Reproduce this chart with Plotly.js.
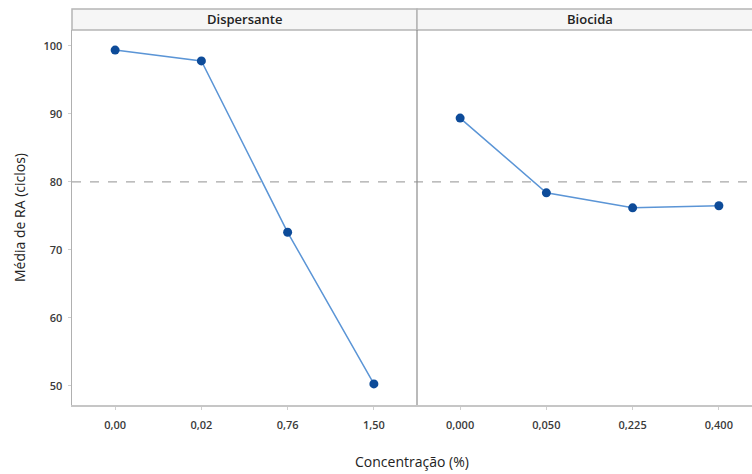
<!DOCTYPE html>
<html>
<head>
<meta charset="utf-8">
<script src="https://cdn.plot.ly/plotly-3.0.1.min.js"></script>
<style>
  html, body { margin: 0; padding: 0; background: #ffffff; }
  #chart { width: 752px; height: 474px; }
</style>
</head>
<body>
<div id="chart"></div>
<script>
// Main effects of concentration on mean RA (cycles)
const dispersanteLevels = ["0,00", "0,02", "0,76", "1,50"];
const dispersanteMeans  = [99.4, 97.8, 72.6, 50.3];

const biocidaLevels = ["0,000", "0,050", "0,225", "0,400"];
const biocidaMeans  = [89.4, 78.4, 76.2, 76.5];

const panelNames = ["Dispersante", "Biocida"];
const overallMean = 80;
const yTicks = [50, 60, 70, 80, 90, 100];

const lineColor = "#5b95d6";
const markerColor = "#0d4b99";
const frameColor = "#b5b5b5";
const fontFamily = "'Open Sans', 'Noto Sans', sans-serif";

const W = 752, H = 474;
const margin = { l: 72, r: 0, t: 9, b: 69 };
const plotW = W - margin.l - margin.r;
const plotH = H - margin.t - margin.b;
const stripH = 21;
const yTop = 1 - stripH / plotH;
const panelW = 345;
const split = panelW / plotW;

function effectTrace(levels, means, xa) {
  return {
    x: levels, y: means, xaxis: xa, yaxis: "y",
    type: "scatter", mode: "lines+markers",
    line: { color: lineColor, width: 1.5 },
    marker: { color: markerColor, size: 9 },
    hoverinfo: "x+y", showlegend: false
  };
}

const data = [
  effectTrace(dispersanteLevels, dispersanteMeans, "x"),
  effectTrace(biocidaLevels, biocidaMeans, "x2")
];

const tickFont = { family: fontFamily, size: 11, color: "#3a3a3a", weight: 600 };

const axisCommon = {
  type: "category",
  showgrid: false, zeroline: false,
  ticks: "outside", ticklen: 3, tickcolor: "#cfcfcf",
  ticklabelstandoff: 6,
  tickfont: tickFont,
  showline: true, linecolor: "#c6c6c6", linewidth: 1.5
};

const shapes = [
  // strip headers
  { type: "rect", xref: "paper", yref: "paper", x0: 0, x1: split, y0: yTop, y1: 1,
    fillcolor: "#f6f6f6", line: { color: frameColor, width: 1.5 }, layer: "below" },
  { type: "rect", xref: "paper", yref: "paper", x0: split, x1: 1.01, y0: yTop, y1: 1,
    fillcolor: "#f6f6f6", line: { color: frameColor, width: 1.5 }, layer: "below" },
  // panel divider
  { type: "line", xref: "paper", yref: "paper", x0: split, x1: split, y0: 0, y1: yTop,
    line: { color: "#8c8c8c", width: 1.2 } },
  // overall mean reference line
  { type: "line", xref: "paper", yref: "y", x0: 0, x1: 1, y0: overallMean, y1: overallMean,
    line: { color: "#a8a8a8", width: 1.2, dash: "dash" }, layer: "below" }
];

const annotations = panelNames.map((name, i) => ({
  text: name, xref: "paper", yref: "paper",
  x: i === 0 ? split / 2 : split + (1 - split) * (panelW / (plotW - panelW)) / 2,
  y: (yTop + 1) / 2, xanchor: "center", yanchor: "middle", showarrow: false,
  font: { family: fontFamily, size: 13, color: "#222", weight: 600 }
}));

// shared x-axis title, centred under both panels
annotations.push({
  text: "Concentração (%)", xref: "paper", yref: "paper",
  x: 0.5, y: 0, yshift: -56, xanchor: "center", yanchor: "middle", showarrow: false,
  font: { family: fontFamily, size: 14, color: "#222" }
});

const layout = {
  width: W, height: H,
  margin: margin,
  paper_bgcolor: "#ffffff", plot_bgcolor: "#ffffff",
  font: { family: fontFamily, color: "#333" },
  xaxis: Object.assign({}, axisCommon, {
    domain: [0, split], range: [-0.5, 3.5], anchor: "y"
  }),
  xaxis2: Object.assign({}, axisCommon, {
    domain: [split, 1], range: [-0.5, -0.5 + 4 * (plotW - panelW) / panelW], anchor: "y"
  }),
  yaxis: {
    domain: [0, yTop], range: [47.2, 102.35],
    tickvals: yTicks, ticktext: yTicks.map(String),
    showgrid: false, zeroline: false,
    ticks: "outside", ticklen: 3, tickcolor: "#cfcfcf",
    ticklabelstandoff: 3,
    tickfont: tickFont,
    showline: true, linecolor: "#b0b0b0", linewidth: 1.5,
    title: { text: "Média de RA (ciclos)", font: { family: fontFamily, size: 14, color: "#222" }, standoff: 14 }
  },
  shapes: shapes,
  annotations: annotations
};

Plotly.newPlot("chart", data, layout, { staticPlot: true, displayModeBar: false });
</script>
</body>
</html>
